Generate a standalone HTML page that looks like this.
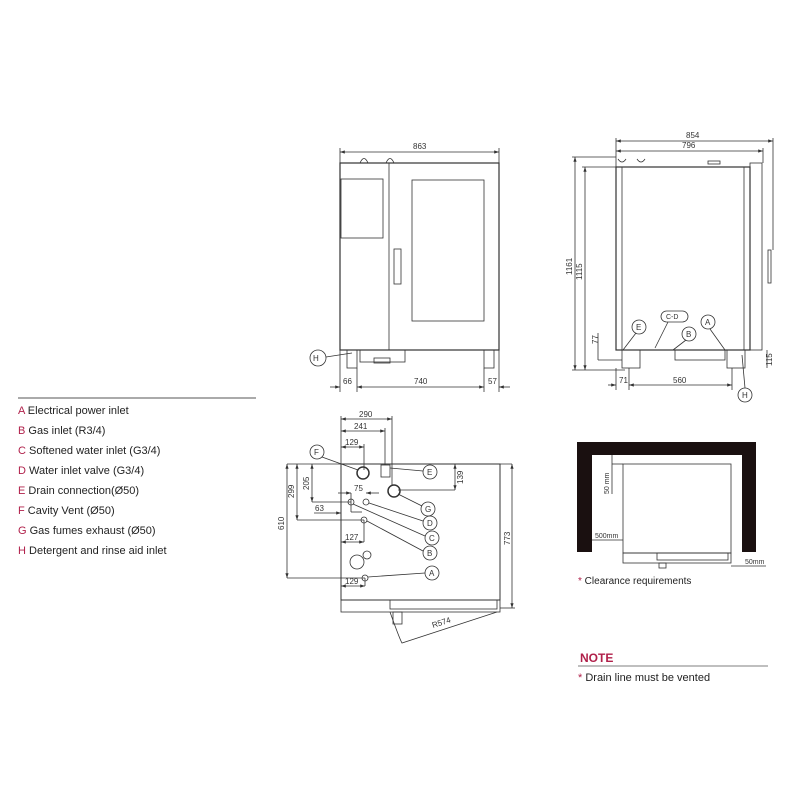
<!DOCTYPE html>
<html><head><style>
body{margin:0;background:#fff;width:800px;height:800px;overflow:hidden;font-family:"Liberation Sans",sans-serif}
svg{position:absolute;left:0;top:0}
</style></head><body>
<svg width="800" height="800" viewBox="0 0 800 800" xmlns="http://www.w3.org/2000/svg" font-family="Liberation Sans, sans-serif">
<defs><marker id="ar" markerWidth="6" markerHeight="6" refX="6" refY="3" orient="auto-start-reverse"><path d="M0,1 L6,3 L0,5z" fill="#333"/></marker></defs>
<line x1="18" y1="398" x2="256" y2="398" stroke="#555" stroke-width="1"/>
<g font-size="11" fill="#222">
<text x="18" y="414"><tspan fill="#b0204a">A</tspan> Electrical power inlet</text>
<text x="18" y="434"><tspan fill="#b0204a">B</tspan> Gas inlet (R3/4)</text>
<text x="18" y="454"><tspan fill="#b0204a">C</tspan> Softened water inlet (G3/4)</text>
<text x="18" y="474"><tspan fill="#b0204a">D</tspan> Water inlet valve (G3/4)</text>
<text x="18" y="494"><tspan fill="#b0204a">E</tspan> Drain connection(Ø50)</text>
<text x="18" y="514"><tspan fill="#b0204a">F</tspan> Cavity Vent (Ø50)</text>
<text x="18" y="534"><tspan fill="#b0204a">G</tspan> Gas fumes exhaust (Ø50)</text>
<text x="18" y="554"><tspan fill="#b0204a">H</tspan> Detergent and rinse aid inlet</text>
</g>
<g stroke="#333" fill="none" stroke-width="0.8">
<rect x="340" y="163" width="159" height="187" stroke-width="1.2"/>
<line x1="389" y1="163" x2="389" y2="350"/>
<rect x="341" y="179" width="42" height="59"/>
<rect x="412" y="180" width="72" height="141"/>
<rect x="394" y="249" width="7" height="35"/>
<path d="M360,163 q4,-9 8,0 M386,163 q4,-9 8,0"/>
<rect x="347" y="350" width="10" height="18"/><rect x="484" y="350" width="10" height="18"/>
<rect x="360" y="350" width="45" height="12"/><rect x="374" y="358" width="16" height="5"/>
<line x1="340" y1="152" x2="499" y2="152" marker-start="url(#ar)" marker-end="url(#ar)"/>
<line x1="340" y1="148" x2="340" y2="163"/><line x1="499" y1="148" x2="499" y2="163"/>
<line x1="340" y1="350" x2="340" y2="392"/><line x1="357" y1="368" x2="357" y2="392"/><line x1="484" y1="368" x2="484" y2="392"/><line x1="499" y1="350" x2="499" y2="392"/>
<line x1="330" y1="387" x2="340" y2="387" marker-end="url(#ar)"/>
<line x1="357" y1="387" x2="484" y2="387" marker-start="url(#ar)" marker-end="url(#ar)"/>
<line x1="510" y1="387" x2="499" y2="387" marker-end="url(#ar)"/>
<circle cx="318" cy="358" r="8"/><line x1="326" y1="357" x2="352" y2="353"/>
<rect x="616" y="167" width="134" height="183" stroke-width="1.2"/>
<line x1="622" y1="167" x2="622" y2="350"/><line x1="744" y1="167" x2="744" y2="350"/>
<rect x="750" y="163" width="12" height="187"/>
<rect x="768" y="250" width="3" height="33"/>
<path d="M618,159 q4,6 8,0 M637,159 q4,6 8,0"/>
<rect x="708" y="161" width="12" height="3"/>
<line x1="616" y1="141" x2="773" y2="141" marker-start="url(#ar)" marker-end="url(#ar)"/>
<line x1="616" y1="151" x2="763" y2="151" marker-start="url(#ar)" marker-end="url(#ar)"/>
<line x1="616" y1="138" x2="616" y2="167"/><line x1="773" y1="138" x2="773" y2="250"/><line x1="763" y1="148" x2="763" y2="163"/>
<line x1="575" y1="157" x2="575" y2="370" marker-start="url(#ar)" marker-end="url(#ar)"/>
<line x1="585" y1="167" x2="585" y2="370" marker-start="url(#ar)" marker-end="url(#ar)"/>
<line x1="572" y1="157" x2="616" y2="157"/><line x1="582" y1="167" x2="616" y2="167"/><line x1="572" y1="370" x2="625" y2="370"/>
<rect x="622" y="350" width="18" height="18"/><rect x="727" y="350" width="18" height="18"/>
<rect x="675" y="350" width="50" height="10"/>
<path d="M598,360 H622 M598,333 V360"/>
<line x1="608" y1="385" x2="616" y2="385" marker-end="url(#ar)"/>
<line x1="629" y1="385" x2="732" y2="385" marker-start="url(#ar)" marker-end="url(#ar)"/>
<line x1="616" y1="368" x2="616" y2="390"/><line x1="629" y1="368" x2="629" y2="390"/><line x1="732" y1="368" x2="732" y2="390"/>
<line x1="767" y1="350" x2="767" y2="368"/>
<circle cx="639" cy="327" r="7"/><line x1="636" y1="333" x2="623" y2="350"/>
<rect x="661" y="311" width="27" height="11" rx="5.5"/><line x1="668" y1="322" x2="655" y2="348"/>
<circle cx="689" cy="334" r="7"/><line x1="686" y1="340" x2="673" y2="350"/>
<circle cx="708" cy="322" r="7"/><line x1="710" y1="329" x2="725" y2="350"/>
<circle cx="745" cy="395" r="7"/><line x1="745" y1="388" x2="742" y2="355"/>
<rect x="341" y="464" width="159" height="136" stroke-width="1"/>
<line x1="287" y1="464" x2="512" y2="464"/>
<rect x="341" y="600" width="159" height="12"/>
<rect x="390" y="600" width="107" height="9"/>
<rect x="393" y="612" width="9" height="12"/>
<path d="M390,612 Q400,640 402,643 L497,612"/>
<line x1="341" y1="419" x2="392" y2="419" marker-start="url(#ar)" marker-end="url(#ar)"/>
<line x1="341" y1="431" x2="385" y2="431" marker-start="url(#ar)" marker-end="url(#ar)"/>
<line x1="341" y1="447" x2="364" y2="447" marker-start="url(#ar)" marker-end="url(#ar)"/>
<line x1="341" y1="416" x2="341" y2="464"/><line x1="392" y1="416" x2="392" y2="486"/><line x1="385" y1="428" x2="385" y2="465"/><line x1="364" y1="444" x2="364" y2="470"/>
<line x1="512" y1="464" x2="512" y2="608" marker-start="url(#ar)" marker-end="url(#ar)"/>
<line x1="500" y1="608" x2="515" y2="608"/>
<line x1="287" y1="464" x2="287" y2="578" marker-start="url(#ar)" marker-end="url(#ar)"/>
<line x1="297" y1="464" x2="297" y2="520" marker-start="url(#ar)" marker-end="url(#ar)"/>
<line x1="312" y1="464" x2="312" y2="502" marker-start="url(#ar)" marker-end="url(#ar)"/>
<line x1="455" y1="464" x2="455" y2="490" marker-start="url(#ar)" marker-end="url(#ar)"/>
<line x1="287" y1="578" x2="365" y2="578"/><line x1="297" y1="520" x2="364" y2="520"/><line x1="312" y1="502" x2="351" y2="502"/><line x1="398" y1="490" x2="455" y2="490"/>
<line x1="314" y1="513" x2="341" y2="513" marker-end="url(#ar)"/>
<line x1="338" y1="493" x2="351" y2="493" marker-end="url(#ar)"/><line x1="379" y1="493" x2="366" y2="493" marker-end="url(#ar)"/>
<line x1="351" y1="493" x2="351" y2="512"/><line x1="351" y1="512" x2="362" y2="512"/>
<line x1="341" y1="542" x2="364" y2="542" marker-start="url(#ar)" marker-end="url(#ar)"/><line x1="364" y1="520" x2="364" y2="542"/>
<line x1="341" y1="586" x2="365" y2="586" marker-start="url(#ar)" marker-end="url(#ar)"/><line x1="365" y1="578" x2="365" y2="586"/>
<circle cx="363" cy="473" r="6" stroke-width="1.5"/><circle cx="394" cy="491" r="6" stroke-width="1.5"/>
<rect x="381" y="465" width="9" height="12"/>
<circle cx="366" cy="502" r="3"/><circle cx="351" cy="502" r="3"/><circle cx="364" cy="520" r="3"/><circle cx="365" cy="578" r="3"/>
<circle cx="357" cy="562" r="7"/><circle cx="367" cy="555" r="4"/>
<circle cx="317" cy="452" r="7"/><line x1="322" y1="457" x2="358" y2="470"/>
<circle cx="430" cy="472" r="7"/><line x1="423" y1="471" x2="390" y2="468"/>
<circle cx="428" cy="509" r="7"/><line x1="422" y1="506" x2="398" y2="494"/>
<circle cx="430" cy="523" r="7"/><line x1="423" y1="521" x2="369" y2="503"/>
<circle cx="432" cy="538" r="7"/><line x1="425" y1="536" x2="353" y2="504"/>
<circle cx="430" cy="553" r="7"/><line x1="423" y1="551" x2="367" y2="521"/>
<circle cx="432" cy="573" r="7"/><line x1="425" y1="573" x2="368" y2="577"/>
<rect x="623" y="464" width="108" height="89"/>
<rect x="623" y="553" width="108" height="10"/><rect x="657" y="553" width="71" height="7"/>
<rect x="659" y="563" width="7" height="5"/>
<line x1="612" y1="455" x2="612" y2="494"/><line x1="612" y1="464" x2="623" y2="464"/>
<line x1="592" y1="540" x2="623" y2="540"/><line x1="731" y1="566" x2="766" y2="566"/>
<line x1="578" y1="666" x2="768" y2="666" stroke="#555"/>
</g>
<path d="M577,442 H756 V552 H742 V455 H592 V552 H577 Z" fill="#1a1010"/>
<g font-size="8" fill="#333">
<text x="413" y="149">863</text><text x="343" y="384">66</text><text x="414" y="384">740</text><text x="488" y="384">57</text>
<text x="686" y="138">854</text><text x="682" y="148">796</text>
<text x="619" y="383">71</text><text x="673" y="383">560</text>
<text transform="translate(572,275) rotate(-90)">1161</text><text transform="translate(582,280) rotate(-90)">1115</text>
<text transform="translate(598,344) rotate(-90)">77</text><text transform="translate(772,366) rotate(-90)">115</text>
<text x="313" y="361" font-size="8">H</text><text x="636" y="330">E</text><text x="666" y="319" font-size="7">C-D</text><text x="686" y="337">B</text><text x="705" y="325">A</text><text x="742" y="398">H</text>
<text x="359" y="417">290</text><text x="354" y="429">241</text><text x="345" y="445">129</text>
<text x="354" y="491">75</text><text x="315" y="511">63</text><text x="345" y="540">127</text><text x="345" y="584">129</text>
<text transform="translate(294,498) rotate(-90)">299</text><text transform="translate(309,490) rotate(-90)">205</text>
<text transform="translate(284,530) rotate(-90)">610</text><text transform="translate(510,545) rotate(-90)">773</text>
<text transform="translate(463,484) rotate(-90)">139</text>
<text transform="translate(433,628) rotate(-18)">R574</text>
<text x="314" y="455">F</text><text x="427" y="475">E</text><text x="425" y="512">G</text><text x="427" y="526">D</text><text x="429" y="541">C</text><text x="427" y="556">B</text><text x="429" y="576">A</text>
<text transform="translate(609,494) rotate(-90)" font-size="7">50 mm</text>
<text x="595" y="538" font-size="7">500mm</text><text x="745" y="564" font-size="7">50mm</text>
</g>
<text x="578" y="584" font-size="10" fill="#222"><tspan fill="#b0204a">*</tspan> Clearance requirements</text>
<text x="580" y="662" font-size="12" font-weight="bold" fill="#b0204a">NOTE</text>
<text x="578" y="681" font-size="11" fill="#222"><tspan fill="#b0204a">*</tspan> Drain line must be vented</text>
</svg>
</body></html>
